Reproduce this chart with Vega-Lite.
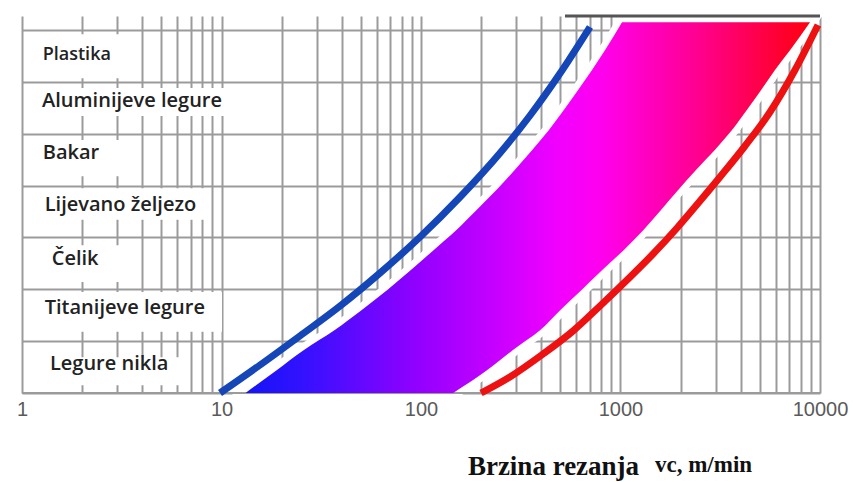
{
  "$schema": "https://vega.github.io/schema/vega-lite/v6.json",
  "width": 798,
  "height": 377,
  "autosize": {"type": "none"},
  "padding": {"left": 22, "top": 16, "right": 33, "bottom": 89},
  "background": "white",
  "config": {"view": {"stroke": null}},
  "datasets": {
    "band": [
      {"y": 0, "xl": 13.2, "xr": 145},
      {"y": 0.44, "xl": 18.9, "xr": 214},
      {"y": 0.83, "xl": 25.9, "xr": 289},
      {"y": 1.21, "xl": 36.8, "xr": 395},
      {"y": 1.6, "xl": 50.5, "xr": 500},
      {"y": 1.99, "xl": 68, "xr": 640},
      {"y": 2.37, "xl": 89, "xr": 810},
      {"y": 2.76, "xl": 116, "xr": 1040},
      {"y": 3.14, "xl": 150, "xr": 1300},
      {"y": 3.53, "xl": 190, "xr": 1596},
      {"y": 3.91, "xl": 238, "xr": 1941},
      {"y": 4.3, "xl": 295, "xr": 2390},
      {"y": 4.69, "xl": 362, "xr": 2977},
      {"y": 5.07, "xl": 438, "xr": 3622},
      {"y": 5.46, "xl": 521, "xr": 4306},
      {"y": 5.84, "xl": 612, "xr": 5060},
      {"y": 6.23, "xl": 720, "xr": 5946},
      {"y": 6.61, "xl": 836, "xr": 7076},
      {"y": 7.15, "xl": 1018, "xr": 8912}
    ],
    "blue": [
      {"x": 9.83, "y": 0},
      {"x": 15.6, "y": 0.54},
      {"x": 24.7, "y": 1.1},
      {"x": 39.3, "y": 1.678},
      {"x": 62.3, "y": 2.314},
      {"x": 98.9, "y": 3.008},
      {"x": 157, "y": 3.779},
      {"x": 249, "y": 4.628},
      {"x": 352, "y": 5.351},
      {"x": 497, "y": 6.161},
      {"x": 703, "y": 7.058}
    ],
    "red": [
      {"x": 200, "y": 0},
      {"x": 279, "y": 0.309},
      {"x": 409, "y": 0.752},
      {"x": 578, "y": 1.196},
      {"x": 789, "y": 1.678},
      {"x": 1078, "y": 2.179},
      {"x": 1455, "y": 2.68},
      {"x": 1920, "y": 3.182},
      {"x": 2503, "y": 3.702},
      {"x": 3153, "y": 4.165},
      {"x": 4207, "y": 4.763},
      {"x": 5616, "y": 5.418},
      {"x": 7493, "y": 6.228},
      {"x": 9772, "y": 7.096}
    ],
    "labels": [
      {"label": "Plastika", "x": 1.27, "y": 6.52, "bx0": 1.04, "bx": 3.9, "by1": 6.07, "by2": 6.92},
      {"label": "Aluminijeve legure", "x": 1.26, "y": 5.63, "bx0": 1.04, "bx": 11.3, "by1": 5.34, "by2": 5.88},
      {"label": "Bakar", "x": 1.27, "y": 4.63, "bx0": 1.04, "bx": 3.69, "by1": 4.18, "by2": 4.88},
      {"label": "Lijevano željezo", "x": 1.3, "y": 3.63, "bx0": 1.04, "bx": 8.56, "by1": 3.34, "by2": 3.95},
      {"label": "Čelik", "x": 1.41, "y": 2.58, "bx0": 1.04, "bx": 3.48, "by1": 2.14, "by2": 2.85},
      {"label": "Titanijeve legure", "x": 1.3, "y": 1.64, "bx0": 1.04, "bx": 10.06, "by1": 1.18, "by2": 1.95},
      {"label": "Legure nikla", "x": 1.38, "y": 0.56, "bx0": 1.04, "bx": 6.8, "by1": 0.15, "by2": 0.69}
    ],
    "top": [{"xa": 527, "xb": 10000, "y": 7.27}],
    "base": [{"xa": 1, "xb": 10000, "y": 0}]
  },
  "layer": [
    {
      "data": {"name": "band"},
      "mark": {"type": "area", "orient": "horizontal", "interpolate": "monotone", "fill": "white", "stroke": "white", "strokeWidth": 13},
      "encoding": {
        "y": {
          "field": "y", "type": "quantitative",
          "scale": {"domain": [0, 7.27], "nice": false, "zero": false},
          "axis": {"values": [0, 1, 2, 3, 4, 5, 6, 7], "labels": false, "ticks": false, "domain": false, "title": null, "grid": true, "gridColor": "#9b9b9b", "gridWidth": 2, "gridOpacity": 1}
        },
        "x": {
          "field": "xl", "type": "quantitative",
          "scale": {"type": "log", "domain": [1, 10000], "nice": false},
          "axis": {
            "values": [1, 2, 3, 4, 5, 6, 7, 8, 9, 10, 20, 30, 40, 50, 60, 70, 80, 90, 100, 200, 300, 400, 500, 600, 700, 800, 900, 1000, 2000, 3000, 4000, 5000, 6000, 7000, 8000, 9000, 10000],
            "format": "d",
            "labelExpr": "indexof([1, 10, 100, 1000, 10000], datum.value) >= 0 ? datum.label : ''",
            "labelFlush": false,
            "labelOverlap": false,
            "labelFont": "Liberation Sans",
            "labelFontSize": 20,
            "labelColor": "#5a5a5a",
            "labelPadding": 6,
            "ticks": false,
            "domain": false,
            "grid": true,
            "gridColor": "#9b9b9b",
            "gridWidth": 2,
            "gridOpacity": 1,
            "title": "Brzina rezanja",
            "titleFont": "Liberation Serif",
            "titleFontWeight": "bold",
            "titleFontSize": 27,
            "titleColor": "#111111",
            "titleX": 531,
            "titleY": 73,
            "titleBaseline": "middle",
            "titleAlign": "center"
          }
        },
        "x2": {"field": "xr"}
      }
    },
    {
      "data": {"name": "base"},
      "mark": {"type": "rule", "color": "#9b9b9b", "strokeWidth": 2},
      "encoding": {
        "x": {"field": "xa", "type": "quantitative", "scale": {"type": "log", "domain": [1, 10000], "nice": false}},
        "x2": {"field": "xb"},
        "y": {"field": "y", "type": "quantitative", "scale": {"domain": [0, 7.27], "nice": false, "zero": false}}
      }
    },
    {
      "data": {"name": "band"},
      "mark": {
        "type": "area",
        "orient": "horizontal",
        "interpolate": "monotone",
        "fill": {
          "gradient": "linear", "x1": 0, "y1": 0, "x2": 1, "y2": 0,
          "stops": [
            {"offset": 0, "color": "#1414f5"},
            {"offset": 0.1, "color": "#3311ff"},
            {"offset": 0.3, "color": "#9000ff"},
            {"offset": 0.55, "color": "#f000ff"},
            {"offset": 0.63, "color": "#ff00ee"},
            {"offset": 0.8, "color": "#ff0090"},
            {"offset": 1, "color": "#ff0010"}
          ]
        }
      },
      "encoding": {
        "y": {"field": "y", "type": "quantitative", "scale": {"domain": [0, 7.27], "nice": false, "zero": false}},
        "x": {"field": "xl", "type": "quantitative", "scale": {"type": "log", "domain": [1, 10000], "nice": false}},
        "x2": {"field": "xr"}
      }
    },
    {
      "data": {"name": "labels"},
      "mark": {"type": "rect", "fill": "white"},
      "encoding": {
        "x": {"field": "bx0", "type": "quantitative", "scale": {"type": "log", "domain": [1, 10000], "nice": false}},
        "x2": {"field": "bx"},
        "y": {"field": "by1", "type": "quantitative", "scale": {"domain": [0, 7.27], "nice": false, "zero": false}},
        "y2": {"field": "by2"}
      }
    },
    {
      "data": {"name": "blue"},
      "mark": {"type": "line", "color": "#1446b8", "strokeWidth": 7, "interpolate": "monotone"},
      "encoding": {
        "x": {"field": "x", "type": "quantitative", "scale": {"type": "log", "domain": [1, 10000], "nice": false}},
        "y": {"field": "y", "type": "quantitative", "scale": {"domain": [0, 7.27], "nice": false, "zero": false}}
      }
    },
    {
      "data": {"name": "red"},
      "mark": {"type": "line", "color": "#ee1111", "strokeWidth": 7, "interpolate": "monotone"},
      "encoding": {
        "x": {"field": "x", "type": "quantitative", "scale": {"type": "log", "domain": [1, 10000], "nice": false}},
        "y": {"field": "y", "type": "quantitative", "scale": {"domain": [0, 7.27], "nice": false, "zero": false}}
      }
    },
    {
      "data": {"name": "labels"},
      "mark": {"type": "text", "align": "left", "baseline": "middle", "font": "Open Sans", "fontWeight": 600, "color": "#222222"},
      "encoding": {
        "x": {"field": "x", "type": "quantitative", "scale": {"type": "log", "domain": [1, 10000], "nice": false}},
        "y": {"field": "y", "type": "quantitative", "scale": {"domain": [0, 7.27], "nice": false, "zero": false}},
        "text": {"field": "label"},
        "size": {"condition": {"test": "datum.label == 'Plastika'", "value": 18}, "value": 20}
      }
    },
    {
      "data": {"name": "top"},
      "mark": {"type": "rule", "color": "#555555", "strokeWidth": 3},
      "encoding": {
        "x": {"field": "xa", "type": "quantitative", "scale": {"type": "log", "domain": [1, 10000], "nice": false}},
        "x2": {"field": "xb"},
        "y": {"field": "y", "type": "quantitative", "scale": {"domain": [0, 7.27], "nice": false, "zero": false}}
      }
    }
  ],
  "title": {
    "text": "vc, m/min",
    "orient": "bottom",
    "anchor": "start",
    "frame": "group",
    "font": "Liberation Serif",
    "fontWeight": "bold",
    "fontSize": 23,
    "color": "#111111",
    "dx": 633,
    "offset": -25
  }
}
